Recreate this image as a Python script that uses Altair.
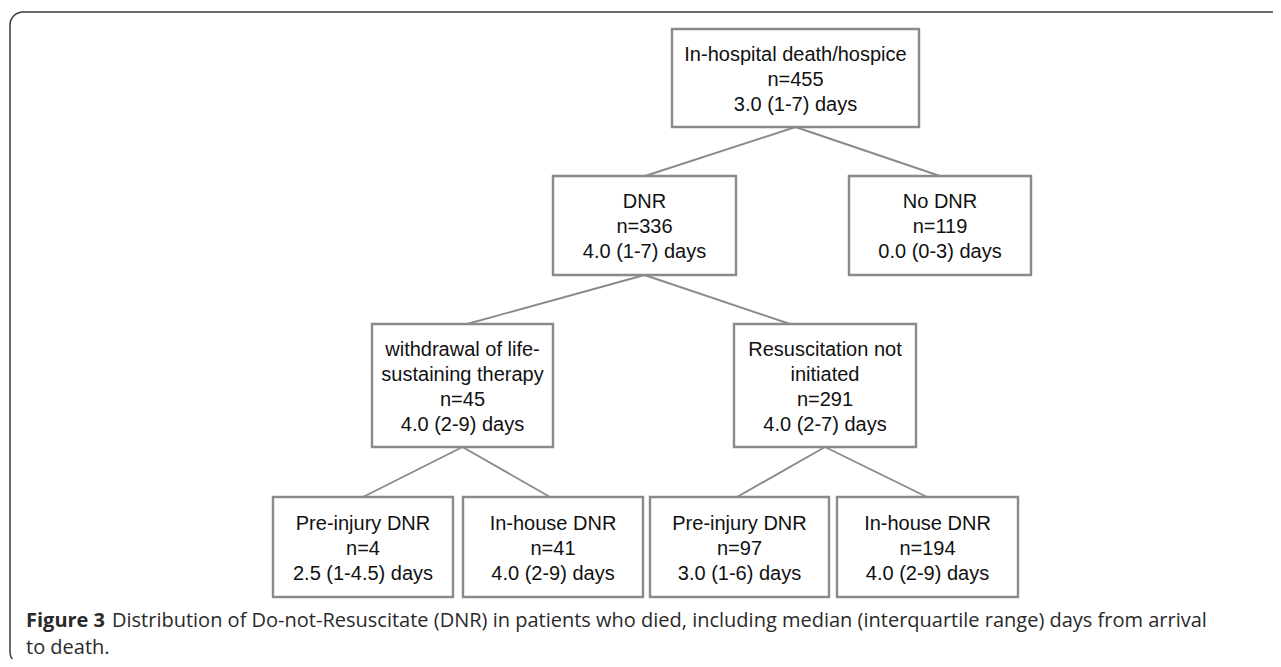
import altair as alt
import pandas as pd

# ---------------- data ----------------
node_ids = ["root", "dnr", "nodnr", "wlst", "rni", "pre1", "inh1", "pre2", "inh2"]
labels = [
    "In-hospital death/hospice",
    "DNR",
    "No DNR",
    "withdrawal of life-\nsustaining therapy",
    "Resuscitation not\ninitiated",
    "Pre-injury DNR",
    "In-house DNR",
    "Pre-injury DNR",
    "In-house DNR",
]
n_values = [455, 336, 119, 45, 291, 4, 41, 97, 194]
medians = [3.0, 4.0, 0.0, 4.0, 4.0, 2.5, 4.0, 3.0, 4.0]
iqr_low = ["1", "1", "0", "2", "2", "1", "2", "1", "2"]
iqr_high = ["7", "7", "3", "9", "7", "4.5", "9", "6", "9"]
parents = [None, "root", "root", "dnr", "dnr", "wlst", "wlst", "rni", "rni"]

caption_bold = "Figure 3"
caption_rest = ("Distribution of Do-not-Resuscitate (DNR) in patients who died, "
                "including median (interquartile range) days from arrival")
caption_line2 = "to death."

# ---------------- layout (page pixel space) ----------------
levels = [0, 1, 1, 2, 2, 3, 3, 3, 3]
level_top = [29, 176, 324, 497]
level_bottom = [127, 275, 447, 597]
box_left = [672, 553, 849, 372, 734, 273, 463, 650, 837]
box_right = [919, 736, 1031, 553, 916, 453, 643, 829, 1018]
edge_end_x = [None, 645, 940, 467, 790, 363, 550, 737, 927]
LINE_H = 25

nodes, lines = [], []
for i, nid in enumerate(node_ids):
    lv = levels[i]
    cy = (level_top[lv] + level_bottom[lv]) / 2
    cx = (box_left[i] + box_right[i]) / 2
    nodes.append(dict(id=nid, x=box_left[i], x2=box_right[i],
                      y=level_top[lv], y2=level_bottom[lv]))
    parts = labels[i].split("\n") + [
        f"n={n_values[i]}",
        f"{medians[i]:.1f} ({iqr_low[i]}-{iqr_high[i]}) days",
    ]
    k = len(parts)
    for j, t in enumerate(parts):
        lines.append(dict(t=t, x=cx, y=cy + (j - (k - 1) / 2) * LINE_H + 1.5))
nodes_df = pd.DataFrame(nodes)
lines_df = pd.DataFrame(lines)

edges = []
for i, p in enumerate(parents):
    if p is None:
        continue
    pi = node_ids.index(p)
    edges.append(dict(
        x=(box_left[pi] + box_right[pi]) / 2,
        y=level_bottom[levels[pi]],
        x2=edge_end_x[i],
        y2=level_top[levels[i]],
    ))
edges_df = pd.DataFrame(edges)

frame_df = pd.DataFrame([dict(x=10, x2=1300, y=12, y2=665)])
cap_df = pd.DataFrame([dict(x=26, y=627, t=caption_bold)])
cap_rest_df = pd.DataFrame([
    dict(x=112, y=627, t=caption_rest),
    dict(x=26, y=654, t=caption_line2),
])

W, H = 1265, 651
xs = alt.Scale(domain=[8, 8 + W], nice=False, zero=False)
ys = alt.Scale(domain=[8, 8 + H], nice=False, zero=False, reverse=True)

def X(f):
    return alt.X(f, type="quantitative", scale=xs, axis=None)

def Y(f):
    return alt.Y(f, type="quantitative", scale=ys, axis=None)

frame = alt.Chart(frame_df).mark_rect(
    fill="white", fillOpacity=0, stroke="#3c3c3c", strokeWidth=1.5, cornerRadius=13
).encode(x=X("x"), x2="x2", y=Y("y"), y2="y2")

edge_layer = alt.Chart(edges_df).mark_rule(color="#8a8a8a", strokeWidth=1.9).encode(
    x=X("x"), y=Y("y"), x2="x2", y2="y2"
)

boxes = alt.Chart(nodes_df).mark_rect(
    fill="white", stroke="#8a8a8a", strokeWidth=2.4
).encode(x=X("x"), x2="x2", y=Y("y"), y2="y2")

texts = alt.Chart(lines_df).mark_text(
    font="Liberation Sans", fontSize=20, align="center", baseline="middle",
    color="#111111"
).encode(x=X("x"), y=Y("y"), text="t:N")

cap_b = alt.Chart(cap_df).mark_text(
    font="Open Sans", fontSize=20, fontWeight="bold", align="left",
    baseline="alphabetic", color="#2a2a2a"
).encode(x=X("x"), y=Y("y"), text="t:N")

cap_r = alt.Chart(cap_rest_df).mark_text(
    font="Open Sans", fontSize=20, fontWeight=500, align="left",
    baseline="alphabetic", color="#2a2a2a"
).encode(x=X("x"), y=Y("y"), text="t:N")

chart = alt.layer(frame, edge_layer, boxes, texts, cap_b, cap_r).properties(
    width=W, height=H, padding=0,
    autosize=alt.AutoSizeParams(type="none"),
).configure_view(stroke=None)

chart.save("out.html", embed_options={"renderer": "svg", "actions": False})
